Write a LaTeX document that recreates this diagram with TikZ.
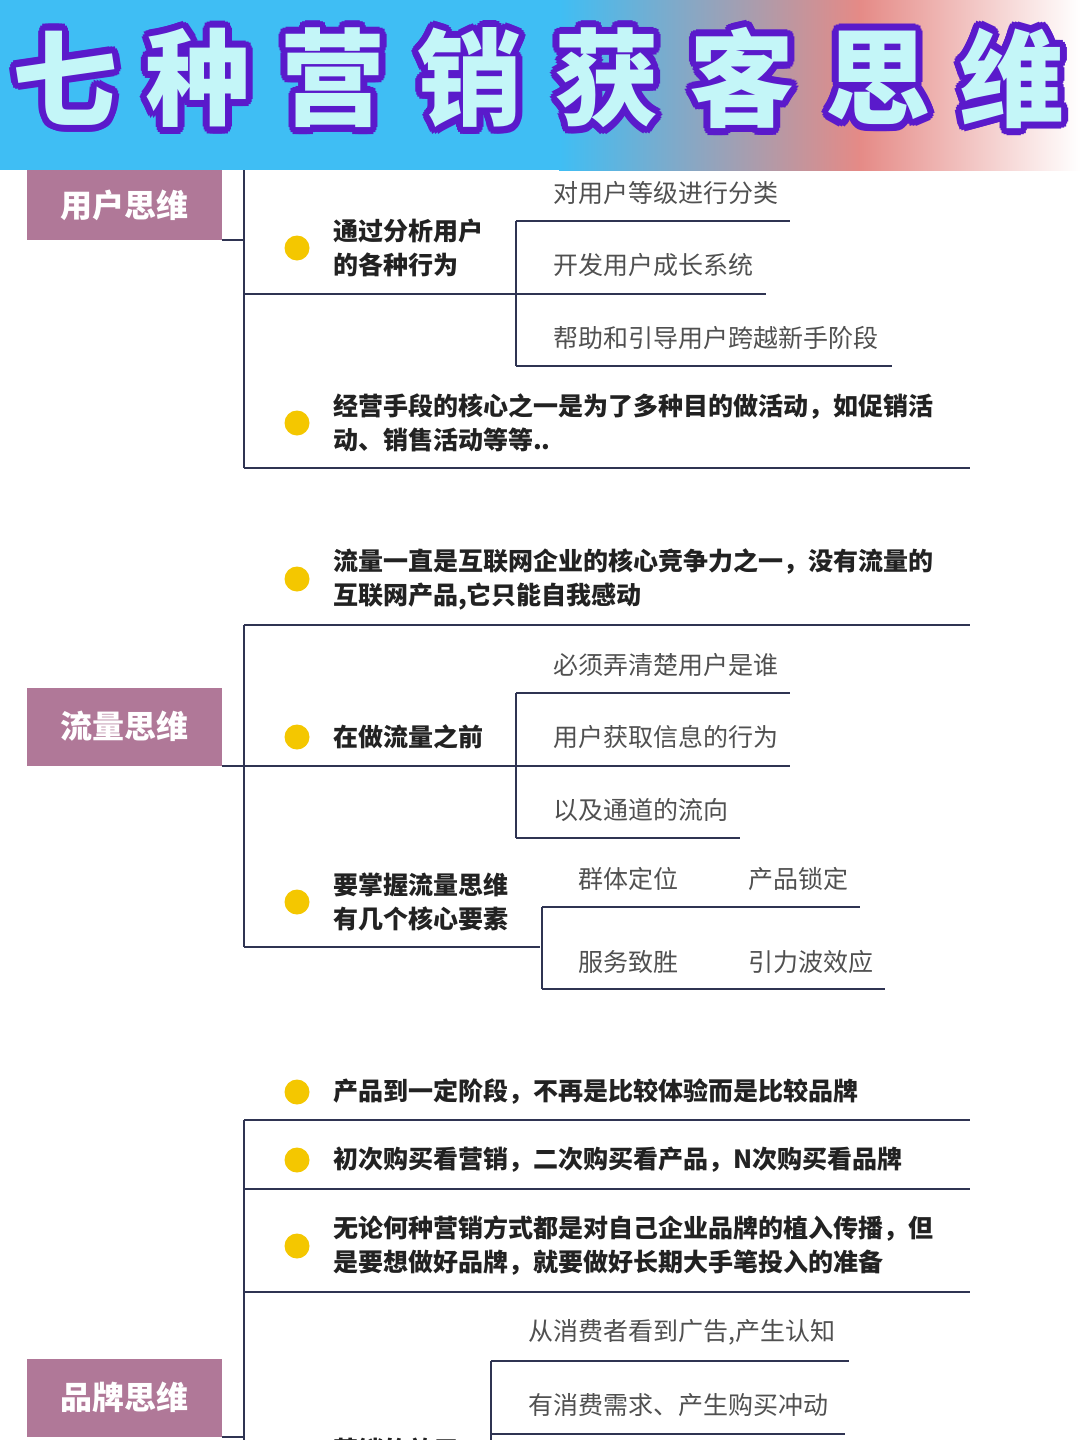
\documentclass[tikz,border=0pt]{standalone}
\usepackage{fontspec}
\setmainfont{Noto Sans CJK SC}
\newfontfamily\cjkb{Noto Sans CJK SC}[UprightFont=* Black]
\definecolor{bannerblue}{HTML}{3FBEF4}
\definecolor{bannerpink}{HTML}{E58A86}
\definecolor{titlefill}{HTML}{C4F6F8}
\definecolor{titleline}{HTML}{5A1ACB}
\definecolor{catbox}{HTML}{B07898}
\definecolor{linecol}{HTML}{2F3452}
\definecolor{dotcol}{HTML}{F4C700}
\definecolor{subtext}{HTML}{505050}
\definecolor{maintext}{HTML}{222222}
\tikzset{
  x=1pt,y=-1pt,
  ln/.style={draw=linecol,line width=2pt},
  cat/.style={fill=catbox,text=white,font=\fontsize{32}{36}\selectfont\bfseries,minimum width=195pt,minimum height=78pt,inner sep=0pt},
  item/.style={anchor=west,text=maintext,font=\fontsize{25}{34}\selectfont\bfseries,align=left,inner sep=0pt},
  sub/.style={anchor=west,text=subtext,font=\fontsize{25}{28}\selectfont,inner sep=0pt},
  dot/.style={circle,fill=dotcol,minimum size=25pt,inner sep=0pt},
}
\newcommand{\ttlchar}[3]{%
  \foreach \a in {0,22.5,...,359}{\node[text=titleline,font=\cjkb\fontsize{105}{110}\selectfont] at ([shift={(\a:7pt)}]#1,#2) {#3};}
  \node[text=titlefill,font=\cjkb\fontsize{105}{110}\selectfont] at (#1,#2) {#3};}
\begin{document}
\begin{tikzpicture}
\useasboundingbox (0,0) rectangle (1080,1440);
\clip (0,0) rectangle (1080,1440);
\node[cat] (c1) at (124.5,201) {};
\node[text=white,font=\fontsize{32}{36}\selectfont\bfseries] (c1t) at (124.5,205) {用户思维};
% banner
\fill[bannerblue] (0,0) rectangle (560,170);
\shade[left color=bannerblue,right color=bannerpink] (559,0) rectangle (860,170);
\shade[left color=bannerpink,right color=white] (859,0) rectangle (1080,170);
\ttlchar{65}{78}{七}
\ttlchar{198}{78}{种}
\ttlchar{333}{78}{营}
\ttlchar{470}{78}{销}
\ttlchar{607}{78}{获}
\ttlchar{742}{78}{客}
\ttlchar{878}{78}{思}
\ttlchar{1012}{78}{维}
% ===== group 1
\coordinate (t1) at (244,170);
\coordinate (b1) at (244,468);
\draw[ln] (222,240) -- (244,240);
\draw[ln] (t1) -- (b1);
\node[dot] (d11) at (297,248) {};
\node[item] (i11) at (333,248) {通过分析用户\\的各种行为};
\draw[ln] (244,294) -- (515,294);
\draw[ln] (516,221) -- (516,366);
\draw[ln] (516,221) -- (790,221);
\draw[ln] (516,294) -- (766,294);
\draw[ln] (516,366) -- (892,366);
\node[sub] (s11) at (553,193) {对用户等级进行分类};
\node[sub] (s12) at (553,265) {开发用户成长系统};
\node[sub] (s13) at (553,338) {帮助和引导用户跨越新手阶段};
\node[dot] (d12) at (297,423) {};
\node[item] (i12) at (333,423) {经营手段的核心之一是为了多种目的做活动，如促销活\\动、销售活动等等..};
\draw[ln] (b1) -- (970,468);
% ===== group 2
\node[cat] (c2) at (124.5,726.5) {流量思维};
\draw[ln] (222,766) -- (244,766);
\draw[ln] (244,625) -- (244,947);
\node[dot] (d21) at (297,579) {};
\node[item] (i21) at (333,579) {流量一直是互联网企业的核心竞争力之一，没有流量的\\互联网产品,它只能自我感动};
\draw[ln] (244,625) -- (970,625);
\node[dot] (d22) at (297,737) {};
\node[item] (i22) at (333,737) {在做流量之前};
\draw[ln] (244,766) -- (515,766);
\draw[ln] (516,693) -- (516,838);
\draw[ln] (516,693) -- (790,693);
\draw[ln] (516,766) -- (790,766);
\draw[ln] (516,838) -- (740,838);
\node[sub] (s21) at (553,665) {必须弄清楚用户是谁};
\node[sub] (s22) at (553,737) {用户获取信息的行为};
\node[sub] (s23) at (553,810) {以及通道的流向};
\node[dot] (d23) at (297,902) {};
\node[item] (i23) at (333,902) {要掌握流量思维\\有几个核心要素};
\draw[ln] (244,947) -- (540,947);
\draw[ln] (542,907) -- (542,989);
\draw[ln] (542,907) -- (860,907);
\draw[ln] (542,989) -- (885,989);
\node[sub] (s24) at (578,879) {群体定位};
\node[sub] (s25) at (748,879) {产品锁定};
\node[sub] (s26) at (578,962) {服务致胜};
\node[sub] (s27) at (748,962) {引力波效应};
% ===== group 3
\node[cat] (c3) at (124.5,1397.5) {品牌思维};
\draw[ln] (222,1437) -- (244,1437);
\draw[ln] (244,1120) -- (244,1440);
\node[dot] (d31) at (297,1092) {};
\node[item] (i31) at (333,1092) {产品到一定阶段，不再是比较体验而是比较品牌};
\draw[ln] (244,1120) -- (970,1120);
\node[dot] (d32) at (297,1160) {};
\node[item] (i32) at (333,1160) {初次购买看营销，二次购买看产品，N次购买看品牌};
\draw[ln] (244,1189) -- (970,1189);
\node[dot] (d33) at (297,1246) {};
\node[item] (i33) at (333,1246) {无论何种营销方式都是对自己企业品牌的植入传播，但\\是要想做好品牌，就要做好长期大手笔投入的准备};
\draw[ln] (244,1292) -- (970,1292);
\draw[ln] (491,1361) -- (491,1440);
\draw[ln] (491,1361) -- (849,1361);
\draw[ln] (491,1434) -- (845,1434);
\node[sub] (s31) at (528,1332) {从消费者看到广告,产生认知};
\node[sub] (s32) at (528,1405) {有消费需求、产生购买冲动};
\node[item] (i34) at (333,1450) {营销的效用};
\end{tikzpicture}
\end{document}
